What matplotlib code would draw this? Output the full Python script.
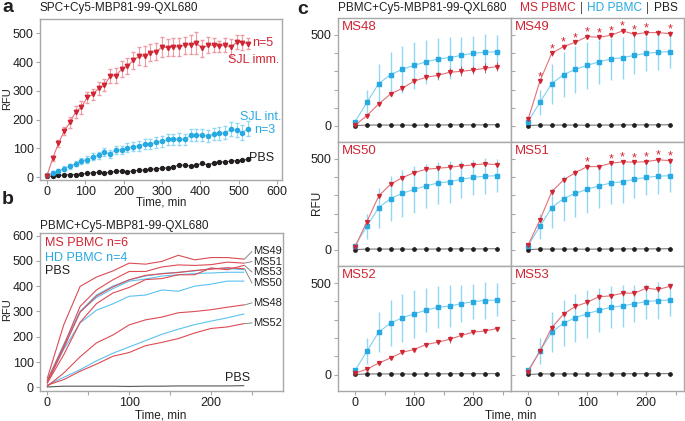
import numpy as np
import matplotlib
matplotlib.use('Agg')
import matplotlib.pyplot as plt

plt.rcParams['font.family'] = ['Liberation Sans', 'DejaVu Sans']
plt.rcParams['font.size'] = 8.5
plt.rcParams['text.color'] = '#231f20'

RED = '#d02533'
RED_LINE = '#e2717a'
RED_ERR = '#ee9ca3'
BLUE = '#27a9e1'
BLUE_LINE = '#7fd0f2'
BLUE_ERR = '#92d8f4'
BLACK = '#231f20'
GREY = '#a8a8a8'

# ---- panel a : SPC + probe (time in min) ----
t_a = [0, 15, 30, 45, 60, 75, 90, 105, 120, 135, 150, 165, 180, 195, 210, 225, 240, 255,
       270, 285, 300, 315, 330, 345, 360, 375, 390, 405, 420, 435, 450, 465, 480, 495, 510, 525]
sjl_imm = [4, 65, 117, 160, 190, 227, 243, 277, 288, 309, 320, 351, 353, 376, 386, 406, 421, 421,
           433, 436, 453, 450, 453, 453, 459, 461, 466, 448, 459, 459, 455, 459, 452, 469, 468, 464]
sjl_imm_err = [5, 8, 12, 15, 18, 20, 22, 18, 20, 22, 22, 25, 25, 28, 28, 30, 30, 35,
               30, 30, 35, 30, 30, 30, 30, 32, 38, 30, 28, 25, 20, 25, 30, 25, 25, 20]
sjl_int = [7, 15, 22, 30, 38, 47, 57, 61, 71, 76, 86, 82, 94, 94, 102, 106, 109, 115,
           115, 121, 125, 131, 131, 132, 131, 146, 146, 146, 143, 150, 152, 154, 167, 164, 155, 169]
sjl_int_err = [3, 5, 6, 8, 9, 10, 11, 12, 12, 13, 14, 14, 15, 15, 16, 16, 17, 17,
               18, 18, 19, 19, 20, 20, 20, 21, 21, 22, 22, 22, 23, 23, 24, 24, 25, 25]
pbs_a = [3, 3, 6, 7, 9, 9, 11, 13, 15, 17, 15, 17, 20, 21, 19, 21, 24, 24,
         27, 29, 31, 32, 36, 42, 42, 38, 42, 48, 42, 50, 53, 53, 56, 57, 59, 62]

# ---- panels b, c : PBMC + probe ----
t_c = [0, 20, 40, 60, 80, 100, 120, 140, 160, 180, 200, 220, 240]
ms48 = [5, 57, 121, 176, 207, 247, 267, 278, 295, 300, 307, 317, 326]
ms49 = [37, 247, 399, 436, 460, 491, 487, 498, 522, 504, 513, 513, 507]
ms50 = [18, 156, 297, 361, 397, 425, 443, 449, 454, 462, 467, 473, 469]
ms51 = [27, 165, 320, 385, 425, 458, 458, 476, 484, 482, 485, 495, 491]
ms52 = [9, 31, 64, 92, 123, 138, 165, 178, 193, 215, 233, 239, 252]
ms53 = [18, 129, 257, 331, 373, 395, 426, 430, 445, 445, 472, 465, 482]
ms48_err = [4, 8, 12, 12, 14, 15, 16, 18, 22, 28, 22, 28, 25]
ms49_err = [6, 12, 12, 12, 12, 12, 12, 12, 14, 14, 14, 16, 14]
ms50_err = [4, 10, 12, 10, 10, 10, 10, 10, 12, 12, 12, 12, 12]
ms51_err = [5, 12, 12, 12, 12, 12, 10, 10, 12, 12, 12, 12, 12]
ms52_err = [3, 6, 8, 8, 10, 10, 10, 12, 18, 10, 10, 12, 10]
ms53_err = [4, 10, 12, 12, 12, 12, 12, 12, 14, 14, 14, 14, 14]
hd_mean = [24, 130, 233, 282, 311, 333, 352, 368, 375, 388, 399, 405, 408]
hd_err = [10, 70, 110, 125, 130, 130, 120, 115, 115, 100, 95, 100, 90]
pbs_c = [2, 5, 5, 5, 5, 4, 5, 5, 6, 6, 6, 6, 7]
hd1 = [20, 160, 300, 355, 390, 420, 428, 440, 445, 450, 452, 455, 455]
hd2 = [25, 150, 255, 305, 330, 360, 365, 385, 380, 400, 408, 420, 420]
hd3 = [30, 170, 300, 365, 400, 425, 440, 450, 455, 460, 470, 470, 465]
hd4 = [10, 40, 70, 105, 135, 160, 185, 210, 230, 248, 262, 275, 290]
ms49_stars = [20, 40, 60, 80, 100, 120, 140, 160, 180, 200, 240]
ms51_stars = [100, 140, 160, 180, 200, 220, 240]

W, H = 685, 421
fig = plt.figure(figsize=(W / 100, H / 100), dpi=100)


def box(x0, y0, x1, y1):
    # pixel box (top-left origin) -> figure fraction
    return [x0 / W, 1 - y1 / H, (x1 - x0) / W, (y1 - y0) / H]


def style(ax):
    for s in ax.spines.values():
        s.set_color(GREY)
        s.set_linewidth(1)
    ax.tick_params(direction='out', length=3, color=GREY, labelsize=9, pad=1.5, labelcolor=BLACK)


# ---------------- a ----------------
ax = fig.add_axes(box(40, 19, 282, 180))
ax.errorbar(t_a, pbs_a, yerr=2, color='#555555', lw=0.8, marker='o', ms=2.8,
            mfc=BLACK, mec=BLACK, ecolor='#888888', elinewidth=0.6, capsize=0)
ax.errorbar(t_a, sjl_int, yerr=sjl_int_err, color=BLUE_LINE, lw=0.8, marker='o', ms=3,
            mfc=BLUE, mec=BLUE, ecolor=BLUE_ERR, elinewidth=0.8, capsize=1.2)
ax.errorbar(t_a, sjl_imm, yerr=sjl_imm_err, color=RED_LINE, lw=0.8, marker='v', ms=3.2,
            mfc=RED, mec=RED, ecolor=RED_ERR, elinewidth=0.8, capsize=1.2)
ax.set_xlim(-18, 613)
ax.set_ylim(-10, 550)
ax.set_xticks([0, 100, 200, 300, 400, 500, 600])
ax.set_yticks([0, 100, 200, 300, 400, 500])
style(ax)
ax.tick_params(axis='x', pad=1)
ax.text(535, 466, 'n=5', color=RED, fontsize=9, va='center')
ax.text(606, 407, 'SJL imm.', color=RED, fontsize=9, va='center', ha='right')
ax.text(611, 209, 'SJL int.', color=BLUE, fontsize=9, va='center', ha='right')
ax.text(595, 164, 'n=3', color=BLUE, fontsize=9, va='center', ha='right')
ax.text(527, 66, 'PBS', color=BLACK, fontsize=9, va='center')

# ---------------- b ----------------
ax = fig.add_axes(box(40, 233, 283, 391))
for v in [hd1, hd2, hd3, hd4]:
    ax.plot(t_c, v, color='#5bc3ef', lw=0.8)
ms_lines = {'MS48': ms48, 'MS49': ms49, 'MS50': ms50, 'MS51': ms51, 'MS52': ms52, 'MS53': ms53}
for v in ms_lines.values():
    ax.plot(t_c, v, color='#dd4b55', lw=0.8)
ax.plot(t_c, pbs_c, color='#555555', lw=0.8)
label_y = {'MS49': 537, 'MS51': 497, 'MS53': 456, 'MS50': 413, 'MS48': 334, 'MS52': 255}
for name, ly in label_y.items():
    ax.plot([241, 250], [ms_lines[name][-1], ly], color='#777777', lw=0.6)
    ax.text(251, ly, name, fontsize=8, va='center')
ax.text(-3, 570, 'MS PBMC n=6', color=RED, fontsize=9, va='center')
ax.text(-3, 513, 'HD PBMC n=4', color=BLUE, fontsize=9, va='center')
ax.text(-3, 460, 'PBS', color=BLACK, fontsize=9, va='center')
ax.text(248, 37, 'PBS', color=BLACK, fontsize=9, va='center', ha='right')
ax.set_xlim(-9, 288)
ax.set_ylim(-14, 610)
ax.set_xticks([0, 50, 100, 150, 200, 250])
ax.set_xticklabels(['0', '', '100', '', '200', ''])
ax.set_yticks([0, 100, 200, 300, 400, 500, 600])
style(ax)

# ---------------- c ----------------
ms_err = {'MS48': ms48_err, 'MS49': ms49_err, 'MS50': ms50_err,
          'MS51': ms51_err, 'MS52': ms52_err, 'MS53': ms53_err}
stars = {'MS49': ms49_stars, 'MS51': ms51_stars}
cols = [(338, 511), (511, 684)]
rows = [(18, 142), (142, 266), (266, 391)]
for i, name in enumerate(['MS48', 'MS49', 'MS50', 'MS51', 'MS52', 'MS53']):
    r, c = divmod(i, 2)
    ax = fig.add_axes(box(cols[c][0], rows[r][0], cols[c][1], rows[r][1]))
    ax.plot(t_c, pbs_c, color='#777777', lw=0.8, marker='o', ms=2.4, mfc=BLACK, mec=BLACK)
    ax.errorbar(t_c, hd_mean, yerr=hd_err, color=BLUE_LINE, lw=0.8, marker='s', ms=2.4,
                mfc=BLUE, mec=BLUE, ecolor=BLUE_ERR, elinewidth=1.0, capsize=0)
    vals = ms_lines[name]
    ax.errorbar(t_c, vals, yerr=ms_err[name], color=RED_LINE, lw=0.8, marker='v', ms=2.8,
                mfc=RED, mec=RED, ecolor='#a0525a', elinewidth=0.6, capsize=0)
    for ts in stars.get(name, []):
        k = t_c.index(ts)
        ax.text(ts, vals[k] + 22, '*', color=RED, fontsize=9, ha='center', va='center')
    ax.text(0.02, 0.93, name, color=RED, fontsize=9.5, transform=ax.transAxes, va='center')
    ax.set_xlim(-29, 264)
    ax.set_ylim(-88, 593)
    ax.set_yticks([0, 100, 200, 300, 400, 500])
    style(ax)
    if c == 0:
        ax.set_yticklabels(['0', '', '', '', '', '500'])
    else:
        ax.set_yticklabels([])
        ax.tick_params(axis='y', direction='in')
    ax.set_xticks([0, 50, 100, 150, 200, 250])
    if r == 2:
        ax.set_xticklabels(['0', '', '100', '', '200', ''])
    else:
        ax.tick_params(axis='x', length=0)
        ax.set_xticklabels([])

# ---------------- figure texts ----------------
axf = fig.add_axes([0, 0, 1, 1])
axf.axis('off')
axf.set_xlim(0, W)
axf.set_ylim(H, 0)
axf.text(2, 8, 'a', fontsize=14, fontweight='bold', va='center')
axf.text(2, 200, 'b', fontsize=14, fontweight='bold', va='center')
axf.text(297, 9, 'c', fontsize=14, fontweight='bold', va='center')
axf.text(40, 8, 'SPC+Cy5-MBP81-99-QXL680', fontsize=8.5, va='center')
axf.text(40, 226, 'PBMC+Cy5-MBP81-99-QXL680', fontsize=8.5, va='center')
axf.text(338, 8, 'PBMC+Cy5-MBP81-99-QXL680', fontsize=8.5, va='center')
axf.text(7, 99, 'RFU', fontsize=8, rotation=90, ha='center', va='center')
axf.text(7, 310, 'RFU', fontsize=8, rotation=90, ha='center', va='center')
axf.text(317, 203, 'RFU', fontsize=8.5, rotation=90, ha='center', va='center')
axf.text(161, 202.5, 'Time, min', fontsize=8.3, ha='center', va='center')
axf.text(161, 415, 'Time, min', fontsize=8.5, ha='center', va='center')
axf.text(511, 415, 'Time, min', fontsize=8.5, ha='center', va='center')

prev = axf.text(520, 8, 'MS PBMC', color=RED, fontsize=8.6, va='center')
for txt, col in [('|', '#555555'), ('HD PBMC', BLUE), ('|', '#555555'), ('PBS', BLACK)]:
    prev = axf.annotate(txt, xy=(1, 0.5), xycoords=prev, xytext=(3, 0),
                        textcoords='offset points', color=col, fontsize=8.6, va='center')

fig.savefig('out.png', dpi=100)
